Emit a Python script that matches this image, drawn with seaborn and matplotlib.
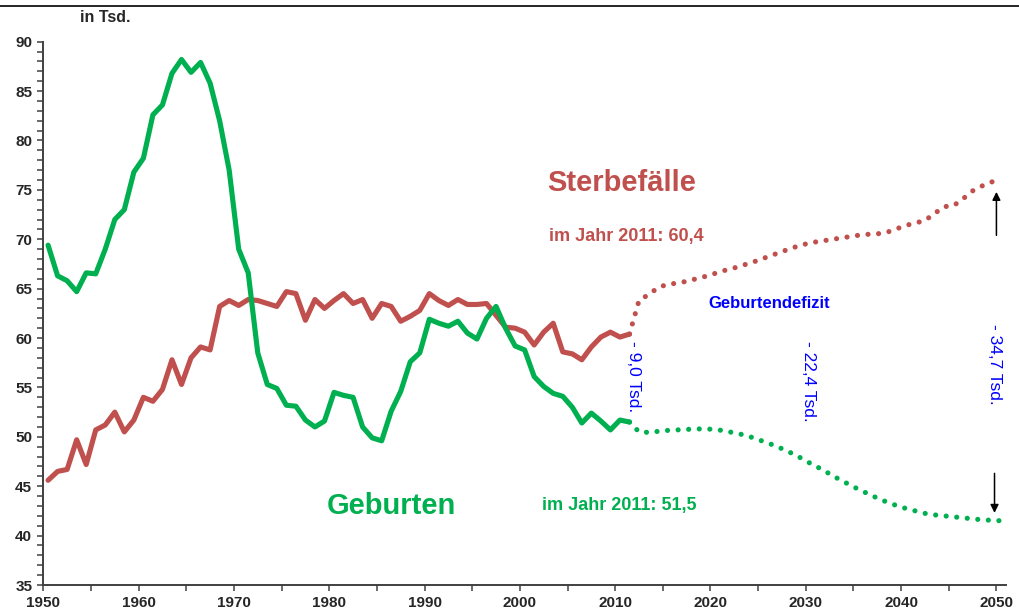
import numpy as np
import pandas as pd
import matplotlib
matplotlib.use("Agg")
import matplotlib.pyplot as plt
from matplotlib.lines import Line2D
from matplotlib.ticker import MultipleLocator
import seaborn as sns

# Observed values 1950-2011 (in Tsd.)
years_hist = list(range(1950, 2012))
geburten = [69.4, 66.3, 65.8, 64.7, 66.6, 66.5, 69.0, 72.0, 73.0, 76.8,
            78.2, 82.6, 83.6, 86.8, 88.2, 86.9, 87.9, 85.8, 82.0, 77.0,
            69.0, 66.6, 58.5, 55.3, 54.9, 53.2, 53.1, 51.7, 51.0, 51.6,
            54.5, 54.2, 54.0, 51.0, 49.9, 49.6, 52.6, 54.6, 57.6, 58.5,
            61.9, 61.5, 61.2, 61.7, 60.5, 59.9, 62.0, 63.2, 61.0, 59.2,
            58.8, 56.1, 55.1, 54.4, 54.1, 53.0, 51.4, 52.4, 51.6, 50.7,
            51.7, 51.5]
sterbefaelle = [45.6, 46.5, 46.7, 49.7, 47.2, 50.7, 51.2, 52.5, 50.5, 51.7,
                54.0, 53.6, 54.8, 57.8, 55.3, 58.0, 59.1, 58.8, 63.2, 63.8,
                63.3, 63.9, 63.8, 63.5, 63.2, 64.7, 64.5, 61.8, 63.9, 63.0,
                63.8, 64.5, 63.5, 63.9, 62.0, 63.5, 63.2, 61.7, 62.2, 62.8,
                64.5, 63.8, 63.3, 63.9, 63.4, 63.4, 63.5, 62.3, 61.1, 61.0,
                60.6, 59.3, 60.6, 61.5, 58.6, 58.4, 57.8, 59.1, 60.1, 60.6,
                60.1, 60.4]

# Projection 2011-2050
years_proj = list(range(2011, 2051))
geburten_proj = [51.5, 50.5, 50.45, 50.55, 50.65, 50.7, 50.75, 50.8, 50.8, 50.75,
                 50.6, 50.4, 50.2, 49.9, 49.55, 49.2, 48.8, 48.35, 47.85, 47.3,
                 46.8, 46.25, 45.7, 45.2, 44.7, 44.25, 43.8, 43.4, 43.05, 42.75,
                 42.5, 42.25, 42.1, 42.0, 41.9, 41.8, 41.7, 41.6, 41.55, 41.5]
sterbefaelle_proj = [60.4, 63.8, 64.4, 65.1, 65.45, 65.55, 65.75, 66.0, 66.25, 66.55,
                     66.85, 67.1, 67.4, 67.7, 68.05, 68.4, 68.75, 69.1, 69.4, 69.65,
                     69.8, 69.95, 70.1, 70.25, 70.4, 70.5, 70.55, 70.7, 71.05, 71.4,
                     71.65, 71.9, 72.6, 73.3, 73.4, 74.1, 74.9, 75.4, 75.8, 76.1]

x_ticks = list(range(1950, 2051, 10))
y_ticks = list(range(35, 91, 5))

GREEN = "#00B050"
RED = "#C0504D"
BLUE = "#0000FF"
AXIS = "#404040"

sns.set_style("ticks")
plt.rcParams["font.family"] = ["Liberation Sans", "DejaVu Sans"]

# values are centred in their year (category-style axis)
hist = pd.DataFrame({"Jahr": np.array(years_hist) + 0.5,
                     "Geburten": geburten, "Sterbefälle": sterbefaelle})
proj = pd.DataFrame({"Jahr": np.array(years_proj) + 0.5,
                     "Geburten": geburten_proj, "Sterbefälle": sterbefaelle_proj})

fig = plt.figure(figsize=(10.19, 6.09), dpi=100)
ax = fig.add_axes([0.0425, 0.0394, 0.9447, 0.8921])

lw = 3.7
dots = (0, (0.01, 2.05))
sns.lineplot(data=proj, x="Jahr", y="Sterbefälle", ax=ax, color=RED, lw=lw,
             linestyle=dots, dash_capstyle="round", clip_on=False)
sns.lineplot(data=proj, x="Jahr", y="Geburten", ax=ax, color=GREEN, lw=lw,
             linestyle=dots, dash_capstyle="round", clip_on=False)
sns.lineplot(data=hist, x="Jahr", y="Sterbefälle", ax=ax, color=RED, lw=lw,
             solid_capstyle="round", solid_joinstyle="round")
sns.lineplot(data=hist, x="Jahr", y="Geburten", ax=ax, color=GREEN, lw=lw,
             solid_capstyle="round", solid_joinstyle="round")

ax.set_xlim(1950, 2051)
ax.set_ylim(35, 90)
ax.set_xticks(x_ticks)
ax.set_xticklabels([str(t) for t in x_ticks])
ax.set_yticks(y_ticks)
ax.xaxis.set_minor_locator(MultipleLocator(5))
ax.yaxis.set_minor_locator(MultipleLocator(1))
ax.set_xlabel("")
ax.set_ylabel("")

sns.despine(ax=ax)
for side in ["left", "bottom"]:
    ax.spines[side].set_color(AXIS)
    ax.spines[side].set_linewidth(1.4)
ax.tick_params(which="both", direction="out", length=4, width=1.1, color=AXIS)
ax.tick_params(axis="both", which="major", labelsize=11, pad=4)
for lab in ax.get_xticklabels() + ax.get_yticklabels():
    lab.set_fontweight("bold")

# annotations
ax.text(2010.7, 75.7, "Sterbefälle", color=RED, fontsize=21, fontweight="bold",
        ha="center", va="center")
ax.text(2011.2, 70.3, "im Jahr 2011: 60,4", color=RED, fontsize=13, fontweight="bold",
        ha="center", va="center")
ax.text(1986.5, 43.0, "Geburten", color=GREEN, fontsize=21, fontweight="bold",
        ha="center", va="center")
ax.text(2010.4, 43.0, "im Jahr 2011: 51,5", color=GREEN, fontsize=13, fontweight="bold",
        ha="center", va="center")
ax.text(2026.2, 63.45, "Geburtendefizit", color=BLUE, fontsize=12, fontweight="bold",
        ha="center", va="center")
for xpos, ypos, txt in [(2011.9, 56.1, "- 9,0 Tsd."), (2030.3, 55.6, "- 22,4 Tsd."),
                        (2049.8, 57.3, "- 34,7 Tsd.")]:
    ax.text(xpos, ypos, txt, color=BLUE, fontsize=12.5, rotation=-90,
            ha="center", va="center")

arrow = dict(arrowstyle="-|>", color="black", lw=1.1, mutation_scale=12,
             shrinkA=0, shrinkB=0)
ax.annotate("", xy=(2050, 74.8), xytext=(2050, 70.4), arrowprops=arrow)
ax.annotate("", xy=(2049.8, 42.3), xytext=(2049.8, 46.3), arrowprops=arrow)

fig.text(80 / 1019, 1 - 18 / 609, "in Tsd.", fontsize=11.5, fontweight="bold",
         ha="left", va="center")
fig.add_artist(Line2D([0, 1], [1 - 6 / 609, 1 - 6 / 609], color="black", lw=1.2))

fig.savefig("out.png", dpi=100)
